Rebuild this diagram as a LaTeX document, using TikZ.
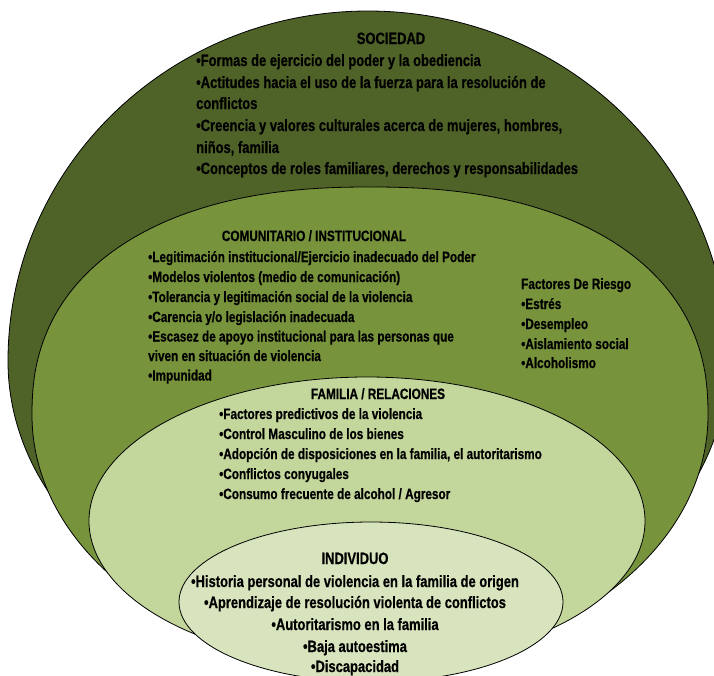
\documentclass[tikz,border=0pt]{standalone}
\usepackage{fontspec}
\setmainfont{Liberation Sans}[FakeStretch=0.79, BoldFeatures={FakeBold=0.6}]
\definecolor{socC}{HTML}{4F6228}
\definecolor{comC}{HTML}{77933C}
\definecolor{famC}{HTML}{C3D69B}
\definecolor{indC}{HTML}{D7E4BD}
\tikzset{
  ring/.style={draw=black, line width=0.8pt},
  bigtxt/.style={font=\bfseries\fontsize{16.4}{20}\selectfont, inner sep=0pt},
  smalltxt/.style={font=\bfseries\fontsize{14.9}{18}\selectfont, inner sep=0pt},
}
\begin{document}
\begin{tikzpicture}[x=1pt, y=-1pt]
\useasboundingbox (0,0) rectangle (714,675);
\clip (0,0) rectangle (714,675);

% SOCIEDAD ring
\path[ring, fill=socC] (728,361)
  arc[start angle=0, end angle=180, x radius=360pt, y radius=350pt]
  arc[start angle=180, end angle=360, x radius=360pt, y radius=284pt] -- cycle;

% COMUNITARIO ring
\path[ring, fill=comC]
  plot[domain=0.5:179.5, samples=180, variable=\t]
   ({370+338*cos(\t)*pow(abs(cos(\t)),-0.1304)}, {415-228*pow(sin(\t),0.8696)})
  -- (32,415)
  arc[start angle=180, end angle=360, x radius=338pt, y radius=250pt] -- cycle;

% FAMILIA ring
\path[ring, fill=famC] (367,521) ellipse [x radius=278pt, y radius=144pt];

% INDIVIDUO ring
\path[ring, fill=indC] (371,602) ellipse [x radius=192pt, y radius=80pt];

% SOCIEDAD text
\node[bigtxt, anchor=base] (socT) at (391,44) {SOCIEDAD};
\foreach \yy/\txt [count=\i] in {
  66/{•Formas de ejercicio del poder y la obediencia},
  88/{•Actitudes hacia el uso de la fuerza para la resolución de},
  109/{conflictos},
  131/{•Creencia y valores culturales acerca de mujeres, hombres,},
  153/{niños, familia},
  174/{•Conceptos de roles familiares, derechos y responsabilidades}}
  \node[bigtxt, anchor=base west] (soc\i) at (196,\yy) {\txt};

% COMUNITARIO text
\node[smalltxt, anchor=base] (comT) at (314,241) {COMUNITARIO / INSTITUCIONAL};
\foreach \yy/\txt [count=\i] in {
  262/{•Legitimación institucional/Ejercicio inadecuado del Poder},
  282/{•Modelos violentos (medio de comunicación)},
  302/{•Tolerancia y legitimación social de la violencia},
  322/{•Carencia y/o legislación inadecuada},
  341.5/{•Escasez de apoyo institucional para las personas que},
  361/{viven en situación de violencia},
  380.5/{•Impunidad}}
  \node[smalltxt, anchor=base west] (com\i) at (148,\yy) {\txt};

% Factores de riesgo
\foreach \yy/\txt [count=\i] in {
  289/{Factores De Riesgo},
  309/{•Estrés},
  329/{•Desempleo},
  349/{•Aislamiento social},
  368/{•Alcoholismo}}
  \node[smalltxt, anchor=base west] (fr\i) at (521,\yy) {\txt};

% FAMILIA text
\node[smalltxt, anchor=base] (famT) at (378,399) {FAMILIA / RELACIONES};
\foreach \yy/\txt [count=\i] in {
  419/{•Factores predictivos de la violencia},
  439/{•Control Masculino de los bienes},
  459/{•Adopción de disposiciones en la familia, el autoritarismo},
  479/{•Conflictos conyugales},
  499/{•Consumo frecuente de alcohol / Agresor}}
  \node[smalltxt, anchor=base west] (fam\i) at (219,\yy) {\txt};

% INDIVIDUO text
\foreach \yy/\txt [count=\i] in {
  564/{INDIVIDUO},
  587/{•Historia personal de violencia en la familia de origen},
  608/{•Aprendizaje de resolución violenta de conflictos},
  630/{•Autoritarismo en la familia},
  652/{•Baja autoestima},
  672/{•Discapacidad}}
  \node[bigtxt, anchor=base] (ind\i) at (355,\yy) {\txt};
\end{tikzpicture}
\end{document}
